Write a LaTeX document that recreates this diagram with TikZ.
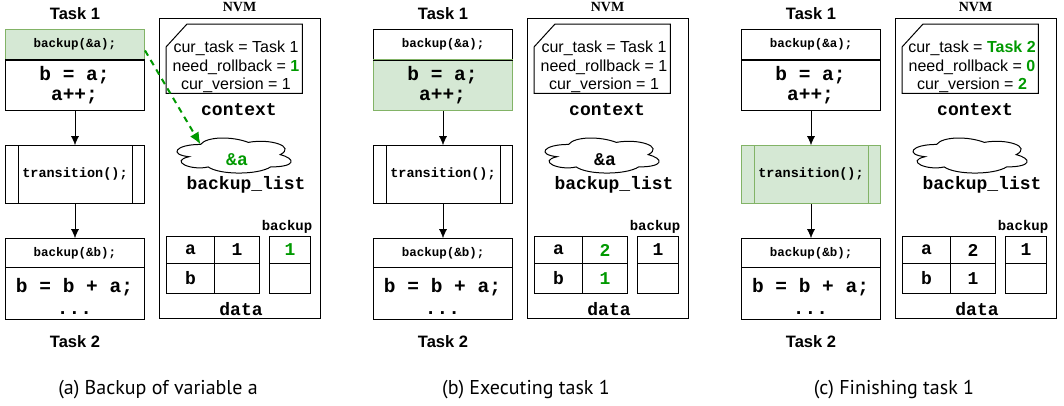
\documentclass[tikz,border=0pt]{standalone}
\usepackage{fontspec}
\usepackage{tikz}
\usetikzlibrary{arrows.meta}
\newfontfamily\hv{Liberation Sans}
\newfontfamily\cw{Liberation Mono}
\newfontfamily\tm{Liberation Serif}
\newfontfamily\capf{PT Sans}
\definecolor{hlfill}{HTML}{D5E8D4}
\definecolor{hldraw}{HTML}{82B366}
\definecolor{hltext}{HTML}{009900}
\newcommand{\grn}[1]{\textcolor{hltext}{\textbf{#1}}}

\begin{document}
\begin{tikzpicture}[x=1pt,y=-1pt,>={Latex[length=9pt,width=8pt]},
    box/.style={draw,line width=1pt,minimum width=139pt,inner sep=0pt,anchor=north west},
    hl/.style={fill=hlfill,draw=hldraw},
    plain/.style={fill=white},
    small/.style={font=\cw\fontsize{12.5}{14}\selectfont\bfseries},
    code/.style={font=\cw\fontsize{19.5}{22}\selectfont\bfseries},
    lbl/.style={font=\cw\fontsize{18}{20}\selectfont\bfseries},
    cell/.style={draw,line width=1pt,minimum height=27pt,inner sep=0pt,anchor=north west,font=\cw\fontsize{18}{20}\selectfont\bfseries},
    title/.style={font=\hv\fontsize{16.5}{18}\selectfont\bfseries}]
    \useasboundingbox (0,0) rectangle (1064,405);
    \foreach \p/\dx/\fa/\fb/\fc/\ct/\rb/\cv/\cl/\va/\vb/\bu/\ctext in{
        a/0/hl/plain/plain/{Task 1}/{\grn{1}}/1/{\grn{\&a}}/1/{}/{\grn{1}}/{Backup of variable a},
        b/368/plain/hl/plain/{Task 1}/1/1/{\&a}/{\grn{2}}/{\grn{1}}/1/{Executing task 1},
        c/736/plain/plain/hl/{\grn{Task 2}}/{\grn{0}}/{\grn{2}}/{}/2/1/1/{Finishing task 1}}{
    \begin{scope}[xshift=\dx]
        %任务部分
        \node[title] (ta\p) at (75,13.5) {Task 1};
        \node[box,\fa,minimum height=30pt,small] (bk\p) at (5,29) {backup(\&a);};
        \node[box,\fb,minimum height=51pt] (bd\p) at (5,59) {};
        \draw[line width=1pt](bk\p.south west)--(bk\p.south east);
        \node[code] (ba\p) at (74.5,75) {b = a;};
        \node[code] (bc\p) at (74.5,97) {a++;};
        \node[box,\fc,minimum height=58pt,font=\cw\fontsize{13.5}{15}\selectfont\bfseries] (tr\p) at (5,145) {transition();};
        \draw[line width=1pt,\fc] ([xshift=13pt]tr\p.north west)--([xshift=13pt]tr\p.south west)
            ([xshift=-13pt]tr\p.north east)--([xshift=-13pt]tr\p.south east);
        \node[box,plain,minimum height=29pt,small] (bb\p) at (5,238) {backup(\&b);};
        \node[box,plain,minimum height=52pt] (bs\p) at (5,267) {};
        \node[code] (be\p) at (74.5,287) {b = b + a;};
        \node[code] (bf\p) at (74.5,313) {...};
        \node[title] (tb\p) at (75,341.5) {Task 2};
        \draw[->](bd\p)--(tr\p);
        \draw[->](tr\p)--(bb\p);
        %NVM部分
        \node[font=\tm\fontsize{14}{16}\selectfont\bfseries] (nt\p) at (239.5,7.5) {NVM};
        \node[draw,line width=1pt,minimum width=161pt,minimum height=300pt,inner sep=0pt,anchor=north west] (nvm\p) at (159,18) {};
        \node[minimum width=136pt,minimum height=69pt,inner sep=0pt,anchor=north west] (ctx\p) at (166,24) {};
        \draw[line width=1pt]([yshift=-23pt]ctx\p.north west)--([xshift=21pt]ctx\p.north west)--(ctx\p.north east)
            --(ctx\p.south east)--(ctx\p.south west)--cycle;
        \node[font=\hv\fontsize{16}{18.5}\selectfont,align=center] (cv\p) at (236,67) {cur\_task = \ct\\need\_rollback = \rb\\cur\_version = \cv};
        \node[lbl] (cx\p) at (239,110) {context};
        \node[minimum width=127.4pt,minimum height=40.9pt,inner sep=0pt,anchor=north west] (cl\p) at (168.7,134.2) {};
        \begin{scope}[shift={(cl\p.north west)},x=127.4pt,y=-40.9pt]
            \draw[line width=1pt](0.25,0.25) coordinate (ce\p) .. controls (0.05,0.25) and (0,0.5) .. (0.16,0.55)
                .. controls (0,0.66) and (0.18,0.9) .. (0.31,0.8) .. controls (0.4,1) and (0.7,1) .. (0.8,0.8)
                .. controls (1,0.8) and (1,0.6) .. (0.875,0.5) .. controls (1,0.3) and (0.8,0.1) .. (0.625,0.2)
                .. controls (0.5,0.05) and (0.3,0.05) .. (0.25,0.25) -- cycle;
        \end{scope}
        \node[lbl] (cn\p) at (237,160) {\cl};
        \node[lbl] (bl\p) at (246,185) {backup\_list};
        \node[cell,minimum width=48pt] (ka\p) at (166,236) {a};
        \node[cell,minimum width=45pt] (va\p) at (214,236) {\va};
        \node[cell,minimum width=48pt,minimum height=30pt] (kb\p) at (166,263) {b};
        \node[cell,minimum width=45pt,minimum height=30pt] (vb\p) at (214,263) {\vb};
        \node[cell,minimum width=41pt] (ua\p) at (269,236) {\bu};
        \node[cell,minimum width=41pt,minimum height=30pt] (ub\p) at (269,263) {};
        \node[font=\cw\fontsize{14}{16}\selectfont\bfseries] (bu\p) at (287,227) {backup};
        \node[lbl] (dt\p) at (241,309) {data};
        %说明
        \node[font=\capf\fontsize{20}{24}\selectfont] (cap\p) at (158,390) {(\p) \ctext};
    \end{scope}
    }
    \draw[-{Latex[length=12pt,width=10pt]},hltext,line width=2pt,dash pattern=on 6pt off 5pt]([yshift=-6pt]bka.east)--(cea);
\end{tikzpicture}
\end{document}
